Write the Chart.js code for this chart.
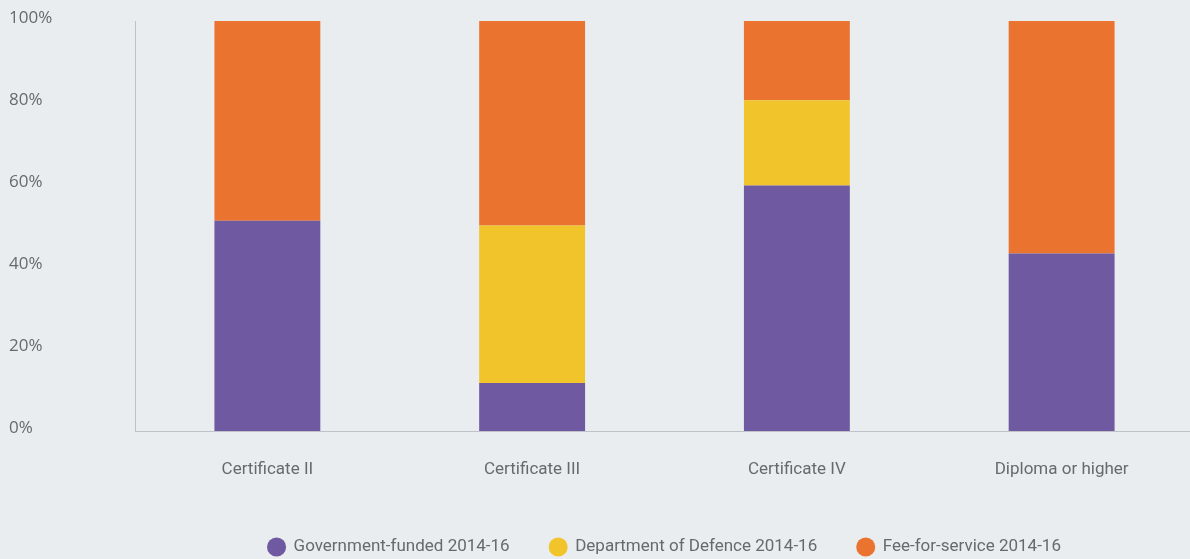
<!DOCTYPE html>
<html lang="en">
<head>
    <meta charset="UTF-8">
    <title>Qualification level by funding source, 2014-16</title>
    <style>
        html, body { margin: 0; padding: 0; background: #e9edf0; }
        #chartBox { width: 1190px; height: 559px; overflow: hidden; }
    </style>
</head>
<body>
    <!-- canvas is a few px wider than the box so the last column can run to the edge -->
    <div id="chartBox"><canvas id="myChart" width="1194" height="559"></canvas></div>
    <script src="https://cdn.jsdelivr.net/npm/chart.js"></script>
    <script>
        const categories = ['Certificate II', 'Certificate III', 'Certificate IV', 'Diploma or higher'];
        const govFunded = [51.3, 11.7, 59.9, 43.3];
        const defence = [0, 38.4, 20.8, 0];
        const feeForService = [48.7, 49.9, 19.3, 56.7];
        const yTicks = [0, 20, 40, 60, 80, 100];

        const seriesNames = ['Government-funded 2014-16', 'Department of Defence 2014-16', 'Fee-for-service 2014-16'];
        const seriesColors = ['#6f59a0', '#f2c42b', '#ea742f'];

        const axisColor = '#bfc3c7';
        const textColor = '#666a6e';
        const labelFont = "Roboto, sans-serif";

        const data = {
            labels: categories,
            datasets: [govFunded, defence, feeForService].map((values, i) => ({
                label: seriesNames[i],
                data: values,
                backgroundColor: seriesColors[i],
                borderWidth: 0,
                barPercentage: 0.4,
                categoryPercentage: 1
            }))
        };

        const config = {
            type: 'bar',
            data: data,
            options: {
                responsive: false,
                animation: false,
                layout: { padding: { top: 21, left: 9, right: 0, bottom: -6.5 } },
                plugins: {
                    tooltip: { enabled: false },
                    legend: {
                        position: 'bottom',
                        fullSize: false,
                        labels: {
                            usePointStyle: true,
                            pointStyle: 'circle',
                            boxWidth: 17,
                            boxHeight: 13.5,
                            padding: 40,
                            color: textColor,
                            font: { family: labelFont, size: 17 }
                        }
                    }
                },
                scales: {
                    x: {
                        stacked: true,
                        grid: { display: false, drawTicks: false },
                        border: { display: true, color: axisColor, width: 1 },
                        ticks: {
                            padding: 29,
                            color: textColor,
                            font: { family: labelFont, size: 17 }
                        },
                        afterFit: (scale) => { scale.height = 67.5; }
                    },
                    y: {
                        stacked: true,
                        min: 0,
                        max: 100,
                        grid: { display: false, drawTicks: false },
                        border: { display: true, color: axisColor, width: 1 },
                        afterBuildTicks: (scale) => { scale.ticks = yTicks.map(v => ({ value: v })); },
                        ticks: {
                            crossAlign: 'far',
                            labelOffset: -3,
                            color: textColor,
                            font: { family: "'Open Sans', sans-serif", size: 17 },
                            callback: (v) => v + '%'
                        },
                        afterFit: (scale) => { scale.width = 126; }
                    }
                }
            }
        };

        const myChart = new Chart(document.getElementById('myChart'), config);
    </script>
</body>
</html>
